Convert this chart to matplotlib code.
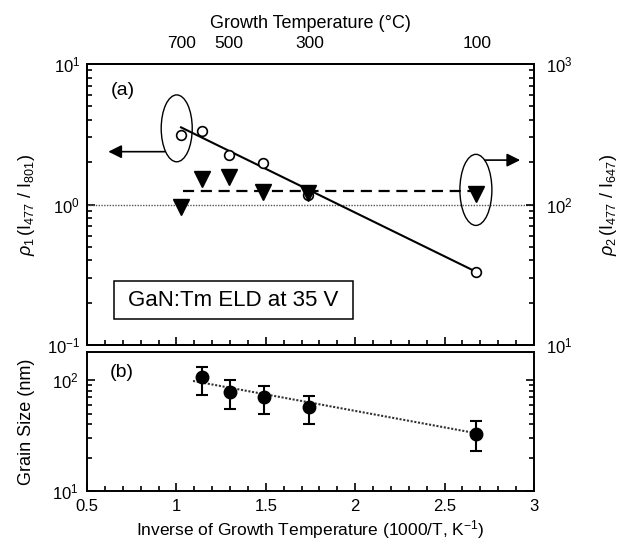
import numpy as np
import matplotlib
matplotlib.use("Agg")
import matplotlib.pyplot as plt
from matplotlib.patches import Ellipse, Rectangle
from matplotlib.ticker import LogLocator, NullFormatter, MultipleLocator

plt.rcParams['font.family'] = ['Liberation Sans', 'DejaVu Sans']
plt.rcParams['mathtext.fontset'] = 'custom'
plt.rcParams['mathtext.rm'] = 'Liberation Sans'
plt.rcParams['mathtext.it'] = 'Liberation Sans:italic'

# ---- data (a) ----
x_rho1 = [1.024, 1.145, 1.296, 1.486, 1.738, 2.676]
rho1 = [3.12, 3.34, 2.25, 1.98, 1.16, 0.332]
x_rho1_fit = [1.026, 2.676]
rho1_fit = [3.54, 0.332]

x_rho2 = [1.024, 1.145, 1.296, 1.483, 1.738, 2.676]
rho2 = [95.5, 151, 158, 123, 121, 119]
x_rho2_mean = [1.035, 2.715]
rho2_mean = [125, 125]

temps_C = [700, 500, 300, 100]

# ---- data (b) ----
x_grain = [1.144, 1.300, 1.489, 1.744, 2.676]
grain = [106, 78, 70, 57, 33]
grain_low = [74, 55, 50, 40, 23]
grain_high = [133, 101, 89, 72, 43]
x_grain_fit = [1.093, 2.674]
grain_fit = [98.6, 33.3]

W, H = 622, 545
fig = plt.figure(figsize=(W/100, H/100), dpi=100)

L, R = 87/W, 534/W
axa = fig.add_axes([L, 1-345/H, R-L, (345-64)/H])
axb = fig.add_axes([L, 1-491/H, R-L, (491-352)/H])

lw_ax = 1.4
for a in (axa, axb):
    for s in a.spines.values():
        s.set_linewidth(lw_ax)

def style_log_y(a):
    a.set_yscale('log')
    a.yaxis.set_major_locator(LogLocator(base=10, numticks=10))
    a.yaxis.set_minor_locator(LogLocator(base=10, subs=np.arange(2, 10), numticks=10))
    a.yaxis.set_minor_formatter(NullFormatter())

# ---------- panel (a) ----------
axa.set_xlim(0.5, 3)
style_log_y(axa)
axa.set_ylim(0.1, 10)
axa.xaxis.set_major_locator(MultipleLocator(0.5))
axa.xaxis.set_minor_locator(MultipleLocator(0.1))
axa.tick_params(which='both', direction='in', top=True, bottom=True, left=True, right=False,
                labelbottom=False, labelsize=12, width=1.2)
axa.tick_params(which='major', length=6, pad=5)
axa.tick_params(which='minor', length=3.5)

axa.axhline(1.0, color='#555555', lw=1.0, ls=(0, (1, 1)))
axa.plot(x_rho1_fit, rho1_fit, color='black', lw=1.5)
axa.plot(x_rho1, rho1, 'o', mfc='white', mec='black', mew=1.2, ms=7, zorder=5)

ax2 = axa.twinx()
style_log_y(ax2)
ax2.set_ylim(10, 1000)
ax2.tick_params(which='both', direction='in', right=True, labelsize=12, width=1.2)
ax2.tick_params(which='major', length=6, pad=9)
ax2.tick_params(which='minor', length=3.5)
for s in ax2.spines.values():
    s.set_linewidth(lw_ax)
ax2.plot(x_rho2_mean, rho2_mean, color='black', lw=1.6, ls=(0, (5, 3)))
ax2.plot(x_rho2, rho2, 'v', color='black', ms=11, zorder=6)

ax3 = axa.twiny()
ax3.set_xlim(0.5, 3)
ax3.set_xticks([1000/(t+273.15) for t in temps_C])
ax3.set_xticklabels([str(t) for t in temps_C])
ax3.tick_params(axis='x', length=0, pad=9, labelsize=12.5)
ax3.set_xlabel('Growth Temperature (°C)', fontsize=13, labelpad=6)
ax3.xaxis.set_minor_locator(plt.NullLocator())
for s in ax3.spines.values():
    s.set_linewidth(lw_ax)

axa.set_ylabel(r'$\rho_1\,(\mathrm{I}_{477}\ /\ \mathrm{I}_{801})$', fontsize=13, labelpad=7)
ax2.set_ylabel(r'$\rho_2\,(\mathrm{I}_{477}\ /\ \mathrm{I}_{647})$', fontsize=13, labelpad=18)

axa.text(0.08, 0.904, '(a)', transform=axa.transAxes, fontsize=14, ha='center', va='center')

# annotation ellipses and arrows
ax2.add_patch(Ellipse((0.2007, 0.771), 0.0694, 0.238, transform=axa.transAxes,
                      fill=False, lw=1.0, ec='black'))
ax2.add_patch(Ellipse((0.870, 0.552), 0.0716, 0.253, transform=axa.transAxes,
                      fill=False, lw=1.0, ec='black'))
ax2.annotate('', xy=(0.0477, 0.688), xytext=(0.1745, 0.688), xycoords='axes fraction',
             textcoords='axes fraction',
             arrowprops=dict(arrowstyle='-|>', color='black', lw=1.2, mutation_scale=20,
                             shrinkA=0, shrinkB=0))
ax2.annotate('', xy=(0.969, 0.658), xytext=(0.890, 0.658), xycoords='axes fraction',
             textcoords='axes fraction',
             arrowprops=dict(arrowstyle='-|>', color='black', lw=1.2, mutation_scale=20,
                             shrinkA=0, shrinkB=0))

ax2.add_patch(Rectangle((0.0604, 0.0915), 0.535, 0.137, transform=axa.transAxes,
                        fill=False, lw=1.1, ec='black'))
ax2.text(0.0604 + 0.535/2, 0.0915 + 0.137/2, 'GaN:Tm ELD at 35 V', transform=axa.transAxes,
         fontsize=16, ha='center', va='center')

# ---------- panel (b) ----------
axb.set_xlim(0.5, 3)
style_log_y(axb)
axb.set_ylim(10, 180)
axb.xaxis.set_major_locator(MultipleLocator(0.5))
axb.xaxis.set_minor_locator(MultipleLocator(0.1))
axb.set_xticks([0.5, 1, 1.5, 2, 2.5, 3])
axb.set_xticklabels(['0.5', '1', '1.5', '2', '2.5', '3'])
axb.tick_params(which='both', direction='in', top=False, bottom=True, left=True, right=True,
                labelsize=12, width=1.2)
axb.tick_params(which='major', length=6, pad=6)
axb.tick_params(which='minor', length=3.5)

axb.plot(x_grain_fit, grain_fit, color='#333333', lw=1.5, ls=(0, (1, 0.8)))
g = np.array(grain)
yerr = [g - np.array(grain_low), np.array(grain_high) - g]
axb.errorbar(x_grain, grain, yerr=yerr, fmt='o', color='black', ms=9, capsize=4,
             elinewidth=1.5, capthick=1.5, zorder=5)

axb.set_ylabel('Grain Size (nm)', fontsize=13, labelpad=12)
axb.set_xlabel('Inverse of Growth Temperature (1000/T, K$^{-1}$)', fontsize=12.5, labelpad=3)
axb.text(0.077, 0.849, '(b)', transform=axb.transAxes, fontsize=14, ha='center', va='center')

fig.savefig('out.png', dpi=100)
